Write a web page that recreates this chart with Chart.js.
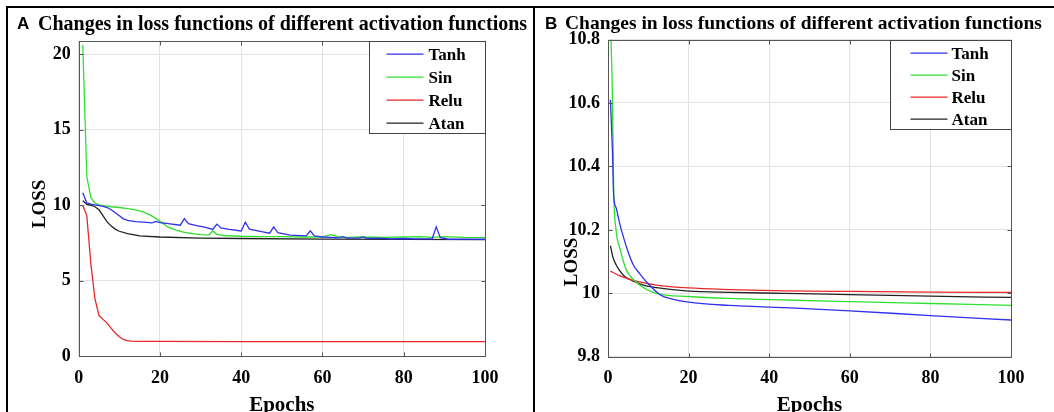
<!DOCTYPE html>
<html>
<head>
<meta charset="utf-8">
<script src="https://cdn.jsdelivr.net/npm/chart.js@4.4.1/dist/chart.umd.min.js"></script>
<style>
html, body { margin: 0; padding: 0; background: #fff; width: 1054px; height: 412px; overflow: hidden; }
#moldura { position: absolute; left: 6px; top: 6px; width: 1100px; height: 500px; border-top: 2px solid #000; border-left: 2px solid #000; }
#divisoria { position: absolute; left: 533px; top: 6px; width: 2px; height: 500px; background: #000; }
.letra { position: absolute; top: 15px; font-family: "Liberation Sans", Arial, sans-serif; font-weight: bold; font-size: 17px; line-height: 17px; color: #000; }
.titulo { position: absolute; top: 13px; font-family: "Liberation Serif", "Times New Roman", serif; font-weight: bold; line-height: 20px; color: #000; white-space: nowrap; }
canvas { position: absolute; top: 0; }
</style>
</head>
<body>
<div id="moldura"></div>
<div id="divisoria"></div>
<canvas id="graficoA" width="525" height="430" style="left:8px"></canvas>
<canvas id="graficoB" width="519" height="430" style="left:535px"></canvas>
<div class="letra" style="left:17px">A</div>
<div class="titulo" style="left:38px;font-size:20px">Changes in loss functions of different activation functions</div>
<div class="letra" style="left:545px">B</div>
<div class="titulo" style="left:565px;font-size:19.5px">Changes in loss functions of different activation functions</div>

<script>
// ---- dados ----
const nomes = ['Tanh', 'Sin', 'Relu', 'Atan'];
const cores = ['#3030ee', '#30e030', '#e82828', '#222222'];
const tituloEixoY = 'LOSS';
const tituloEixoX = 'Epochs';

const xTicks = [0, 20, 40, 60, 80, 100];
const yTicksA = [0, 5, 10, 15, 20];
const yTicksB = [9.8, 10, 10.2, 10.4, 10.6, 10.8];

// painel A
const tanhEpA = [1,2,3,4,5,6,7,8,9,10,11,12,14,16,18,19,20,22,25,26,27,29,31,33,34,35,37,40,41,42,45,47,48,49,52,56,57,58,60,62,64,65,66,69,70,71,74,77,80,83,87,88,89,91,95,100];
const tanhLossA = [10.82,10.15,10.08,10.02,9.98,9.93,9.85,9.7,9.5,9.3,9.1,9.0,8.92,8.88,8.83,8.93,8.85,8.78,8.68,9.12,8.78,8.65,8.55,8.4,8.75,8.5,8.4,8.3,8.88,8.42,8.25,8.15,8.57,8.18,8.02,7.97,8.31,7.97,7.9,7.87,7.84,7.92,7.83,7.83,7.9,7.8,7.82,7.78,7.8,7.77,7.78,8.57,7.85,7.75,7.76,7.75];

const sinEpA = [1,2,3,4,5,6,8,10,12,14,16,18,20,22,24,26,28,30,32,33,34,36,40,45,50,55,60,62,64,66,70,75,80,84,87,90,95,100];
const sinLossA = [20.6,11.9,10.5,10.15,10.02,9.97,9.9,9.85,9.78,9.7,9.55,9.3,8.95,8.55,8.35,8.2,8.12,8.05,8.03,8.3,8.08,8.0,7.95,7.93,7.92,7.9,7.9,8.05,7.9,7.88,7.9,7.88,7.9,7.93,7.88,7.92,7.87,7.86];

const reluEpA = [1,2,3,4,5,6,7,8,9,10,11,12,13,15,20,40,60,80,100];
const reluLossA = [10.0,9.3,6.1,3.8,2.7,2.45,2.2,1.85,1.55,1.3,1.12,1.05,1.01,1.0,0.99,0.98,0.98,0.98,0.98];

const atanEpA = [1,2,3,4,5,6,7,8,9,10,12,15,20,30,40,60,80,100];
const atanLossA = [10.3,10.05,10.0,9.9,9.7,9.3,8.9,8.62,8.42,8.28,8.12,7.98,7.9,7.83,7.8,7.76,7.74,7.72];

// painel B
const tanhEpB = [0.6,1.1,1.4,2,3,4,5,6.25,8,10,13,16,20,30,44,60,80,100];
const tanhLossB = [10.61,10.45,10.31,10.27,10.215,10.17,10.13,10.09,10.06,10.03,9.995,9.982,9.972,9.962,9.955,9.945,9.93,9.916];

const sinEpB = [0.5,1.1,1.4,2,3,4.5,7,12,20,30,44,60,80,100];
const sinLossB = [10.9,10.62,10.33,10.2,10.14,10.075,10.035,10.0,9.99,9.984,9.979,9.974,9.968,9.962];

const reluEpB = [0.6,3,6,9,12,20,30,44,60,80,100];
const reluLossB = [10.07,10.055,10.042,10.033,10.026,10.017,10.012,10.008,10.006,10.004,10.003];

const atanEpB = [0.6,1.2,2,3,4,6,9,12,20,30,44,60,80,100];
const atanLossB = [10.15,10.115,10.09,10.07,10.055,10.04,10.025,10.018,10.007,10.003,10.0,9.996,9.991,9.987];

const serif = '"Liberation Serif", "Times New Roman", serif';

function pares(epocas, perdas) {
    return epocas.map((e, i) => ({ x: e, y: perdas[i] }));
}

// caixa dos eixos, ticks para dentro, titulo do eixo y e legenda dentro do grafico
const caixaEixos = {
    id: 'caixaEixos',
    afterDatasetsDraw(chart, args, opts) {
        const { ctx, chartArea: a, scales } = chart;
        const l = Math.round(a.left) + 0.5, t = Math.round(a.top) + 0.5;
        const r = Math.round(a.right) + 0.5, b = Math.round(a.bottom) + 0.5;
        ctx.save();
        ctx.strokeStyle = '#555';
        ctx.lineWidth = 1;
        ctx.beginPath();
        for (const tk of scales.x.ticks) {
            const px = Math.round(scales.x.getPixelForValue(tk.value)) + 0.5;
            ctx.moveTo(px, b); ctx.lineTo(px, b - 4);
            ctx.moveTo(px, t); ctx.lineTo(px, t + 4);
        }
        for (const tk of scales.y.ticks) {
            const py = Math.round(scales.y.getPixelForValue(tk.value)) + 0.5;
            ctx.moveTo(l, py); ctx.lineTo(l + 4, py);
            ctx.moveTo(r, py); ctx.lineTo(r - 4, py);
        }
        ctx.stroke();
        ctx.strokeRect(l, t, r - l, b - t);

        // titulo do eixo y (posicao tirada da figura)
        ctx.save();
        ctx.translate(opts.tituloX, opts.tituloY);
        ctx.rotate(-Math.PI / 2);
        ctx.font = 'bold 19px ' + serif;
        ctx.fillStyle = '#000';
        ctx.textAlign = 'center';
        ctx.textBaseline = 'middle';
        ctx.fillText(tituloEixoY, 0, 0);
        ctx.restore();

        // legenda
        const bx = Math.round(a.right - opts.largura) + 0.5;
        const by = t;
        ctx.fillStyle = '#fff';
        ctx.fillRect(bx, by, opts.largura, opts.altura);
        ctx.strokeStyle = '#444';
        ctx.strokeRect(bx, by, opts.largura, opts.altura);
        ctx.font = 'bold 17px ' + serif;
        ctx.textBaseline = 'middle';
        ctx.textAlign = 'left';
        chart.data.datasets.forEach((ds, i) => {
            const y = by + opts.linha0 + i * opts.passo;
            ctx.strokeStyle = ds.borderColor;
            ctx.lineWidth = 1.3;
            ctx.beginPath();
            ctx.moveTo(bx + opts.x1, y);
            ctx.lineTo(bx + opts.x2, y);
            ctx.stroke();
            ctx.fillStyle = '#000';
            ctx.fillText(ds.label, bx + opts.xt, y + 1);
        });
        ctx.restore();
    }
};

function criarGrafico(canvasId, series, yMin, yMax, yTicks, layout, legenda, suave) {
    const config = {
        type: 'line',
        data: {
            datasets: series.map((s, i) => ({
                label: nomes[i],
                data: s,
                borderColor: cores[i],
                backgroundColor: cores[i],
                borderWidth: 1.3,
                pointRadius: 0,
                fill: false,
                tension: 0,
                cubicInterpolationMode: suave ? 'monotone' : 'default'
            }))
        },
        options: {
            responsive: false,
            animation: false,
            layout: { padding: { left: 0, top: layout.top, right: layout.right, bottom: 0 } },
            plugins: {
                legend: { display: false },
                tooltip: { enabled: false },
                caixaEixos: legenda
            },
            scales: {
                x: {
                    type: 'linear',
                    min: 0,
                    max: 100,
                    afterBuildTicks: (s) => { s.ticks = xTicks.map(v => ({ value: v })); },
                    afterFit: (s) => { s.height = 430 - layout.bottom; },
                    grid: { color: '#e2e2e2', lineWidth: 1, drawTicks: false },
                    border: { display: false },
                    ticks: { color: '#000', padding: 11, font: { family: serif, size: 18, weight: 'bold' } },
                    title: {
                        display: true, text: tituloEixoX, color: '#000',
                        font: { family: serif, size: 21, weight: 'bold' },
                        padding: { top: 0, bottom: 11.6 }
                    }
                },
                y: {
                    min: yMin,
                    max: yMax,
                    afterBuildTicks: (s) => { s.ticks = yTicks.map(v => ({ value: v })); },
                    afterFit: (s) => { s.width = layout.left; },
                    grid: { color: '#e2e2e2', lineWidth: 1, drawTicks: false },
                    border: { display: false },
                    ticks: {
                        color: '#000', padding: 8,
                        font: { family: serif, size: 18, weight: 'bold' },
                        callback: (v) => String(v)
                    }
                }
            }
        },
        plugins: [caixaEixos]
    };
    return new Chart(document.getElementById(canvasId), config);
}

criarGrafico('graficoA',
    [pares(tanhEpA, tanhLossA), pares(sinEpA, sinLossA), pares(reluEpA, reluLossA), pares(atanEpA, atanLossA)],
    0, 20.9, yTicksA,
    { left: 70.7, top: 40.5, right: 48, bottom: 356.4 },
    { largura: 116, altura: 92, linha0: 12.7, passo: 23, x1: 17, x2: 54, xt: 59, tituloX: 32, tituloY: 204 },
    false);

criarGrafico('graficoB',
    [pares(tanhEpB, tanhLossB), pares(sinEpB, sinLossB), pares(reluEpB, reluLossB), pares(atanEpB, atanLossB)],
    9.8, 10.8, yTicksB,
    { left: 73, top: 39.5, right: 43, bottom: 356.8 },
    { largura: 121, altura: 89, linha0: 12.7, passo: 22, x1: 20, x2: 57, xt: 61, tituloX: 37, tituloY: 262 },
    true);
</script>
</body>
</html>
